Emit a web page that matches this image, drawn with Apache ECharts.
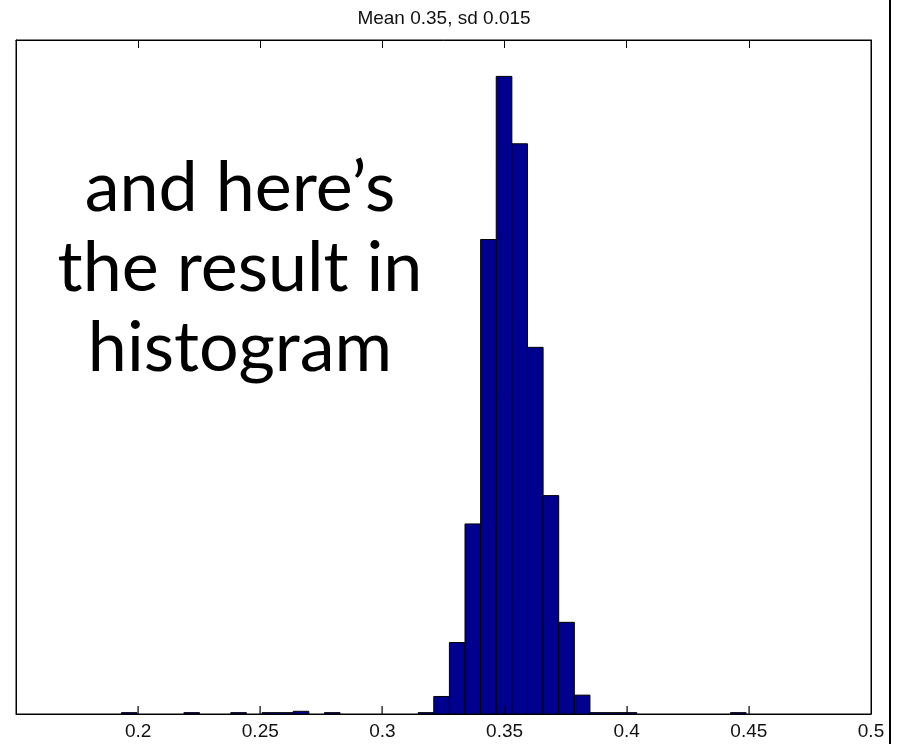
<!DOCTYPE html>
<html>
<head>
<meta charset="utf-8">
<script src="https://cdn.jsdelivr.net/npm/echarts@6/dist/echarts.min.js"></script>
<style>html,body{margin:0;padding:0;background:#fff}#c{width:901px;height:744px}</style>
</head>
<body>
<div id="c"></div>
<script>
// Histogram data (40 bins)
const binStart = 0.19316;
const binWidth = 0.006393;
const counts = [1,0,0,0,1,0,0,1,0,1, 1,2,0,1,0,0,0,0,0,1, 13,53,141,352,473,423,272,162,68,14, 1,1,1,0,0,0,0,0,0,1];
const titleText = 'Mean 0.35, sd 0.015';
const noteLines = ['and here\u2019s', 'the result in', 'histogram'];
const xTicks = { min: 0.15, max: 0.5, interval: 0.05 };
const tickValues = [0.2, 0.25, 0.3, 0.35, 0.4, 0.45];
const yRange = { min: 0, max: 500 };

const histData = counts.map((c, i) => [binStart + i * binWidth, binStart + (i + 1) * binWidth, c]).filter(d => d[2] > 0);

const chart = echarts.init(document.getElementById('c'));
function xAxisDef(pos, showTicks, showLabel) {
  return {
    type: 'value', position: pos, min: xTicks.min, max: xTicks.max, interval: xTicks.interval,
    axisLine: { show: true, onZero: false, lineStyle: { color: '#000', width: 1 } },
    axisTick: { show: showTicks, inside: true, length: 8, lineStyle: { color: '#000', width: 1 } },
    splitLine: { show: false },
    axisLabel: {
      show: showLabel, margin: 8, fontSize: 19, fontFamily: 'Liberation Sans', color: '#111',
      formatter: v => (v < 0.16 ? '' : String(+v.toFixed(2)))
    }
  };
}
chart.setOption({
  animation: false,
  backgroundColor: '#fff',
  title: {
    text: titleText, left: 439, top: 4, textAlign: 'center',
    textStyle: { fontFamily: 'Liberation Sans', fontSize: 19, fontWeight: 'normal', color: '#111' }
  },
  grid: { left: 16, right: 30, top: 40, bottom: 30, show: true, borderColor: '#000', borderWidth: 1, backgroundColor: 'transparent' },
  xAxis: [xAxisDef('bottom', false, true), xAxisDef('top', true, false)],
  yAxis: [
    { type: 'value', min: yRange.min, max: yRange.max, axisLine: { show: true, onZero: false, lineStyle: { color: '#000' } }, axisTick: { show: false }, axisLabel: { show: false }, splitLine: { show: false } },
    { type: 'value', min: yRange.min, max: yRange.max, position: 'right', axisLine: { show: true, onZero: false, lineStyle: { color: '#000' } }, axisTick: { show: false }, axisLabel: { show: false }, splitLine: { show: false } }
  ],
  series: [{
    type: 'custom',
    xAxisIndex: 0, yAxisIndex: 0,
    data: histData,
    encode: { x: [0, 1], y: 2 },
    renderItem: function (params, api) {
      const p0 = api.coord([api.value(0), api.value(2)]);
      const p1 = api.coord([api.value(1), 0]);
      return {
        type: 'rect',
        shape: { x: p0[0], y: p0[1], width: p1[0] - p0[0], height: p1[1] - p0[1] },
        style: { fill: '#00008F', stroke: '#000', lineWidth: 1 }
      };
    }
  }, {
    // inward-pointing tick marks on the bottom axis, drawn as thin filled rects
    type: 'custom',
    xAxisIndex: 0, yAxisIndex: 0,
    data: tickValues.map(v => [v, v, yRange.min]),
    encode: { x: [0, 1], y: 2 },
    silent: true,
    z: 10,
    renderItem: function (params, api) {
      const p = api.coord([api.value(0), api.value(2)]);
      return {
        type: 'rect',
        shape: { x: Math.round(p[0]) - 0.5, y: p[1] - 8, width: 1.2, height: 8 },
        style: { fill: '#000' }
      };
    }
  }],
  graphic: [
    {
      type: 'text', x: 240, y: 148,
      style: {
        text: noteLines.join('\n'), textAlign: 'center',
        font: '70px Lato', fill: '#000', lineHeight: 80
      }
    },
    { type: 'line', shape: { x1: 890, y1: 0, x2: 890, y2: 744 }, style: { stroke: '#000', lineWidth: 2 } }
  ]
});
</script>
</body>
</html>
